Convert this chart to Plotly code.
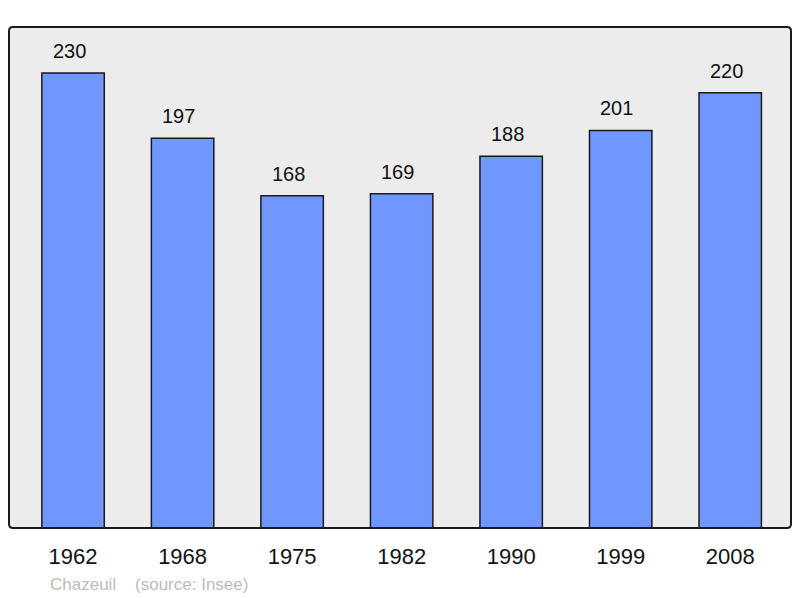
import plotly.graph_objects as go

years = ['1962', '1968', '1975', '1982', '1990', '1999', '2008']
population = [230, 197, 168, 169, 188, 201, 220]
commune = 'Chazeuil'
source = '(source: Insee)'

fig = go.Figure()
fig.add_trace(go.Bar(x=years, y=population, width=0.57,
                     marker=dict(color='#7097ff', line=dict(color='#1a1a1a', width=1.5)),
                     hoverinfo='skip'))

# value labels above the bars (index positions on the category axis)
for i, val in enumerate(population):
    fig.add_annotation(x=i, y=val, text=str(val), showarrow=False,
                       yanchor='bottom', yshift=9, xshift=-4,
                       font=dict(size=20, color='#111111', family='Liberation Sans'))

fig.add_annotation(xref='paper', yref='paper', x=0.05, y=-0.09, xanchor='left', yanchor='top',
                   text=commune + '\u00a0\u00a0\u00a0\u00a0' + source, showarrow=False,
                   font=dict(size=17, color='#bbbbbb', family='Liberation Sans'))

# rounded frame around the plot area
rx, ry = 4 / 782, 4 / 501
frame = (f'M {rx},0 L {1-rx},0 Q 1,0 1,{ry} L 1,{1-ry} Q 1,1 {1-rx},1 '
         f'L {rx},1 Q 0,1 0,{1-ry} L 0,{ry} Q 0,0 {rx},0 Z')
fig.add_shape(type='path', xref='paper', yref='paper', path=frame,
              line=dict(color='#1a1a1a', width=2), fillcolor='rgba(0,0,0,0)', layer='above')

fig.update_layout(
    width=800, height=598,
    margin=dict(l=9, r=9, t=27, b=70),
    paper_bgcolor='white', plot_bgcolor='#ececec',
    showlegend=False,
    xaxis=dict(type='category', range=[-0.585, 6.555], showgrid=False, zeroline=False,
               ticks='', tickfont=dict(size=22, color='#111111', family='Liberation Sans'),
               ticklabelstandoff=13),
    yaxis=dict(range=[0, 253.3], showgrid=False, zeroline=False, showticklabels=False),
)

fig.write_html('out.html', config={'displayModeBar': False},
               post_script="document.body.style.margin='0';")
